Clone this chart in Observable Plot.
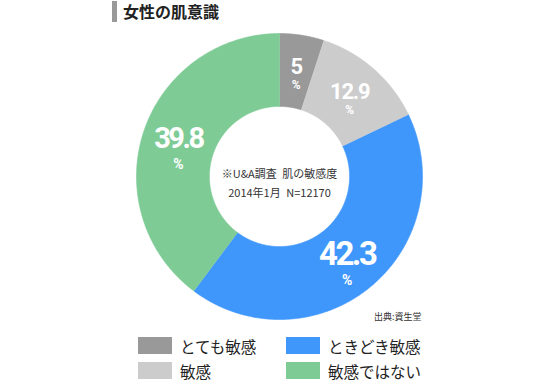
<!DOCTYPE html>
<html>
<head>
<meta charset="utf-8">
<script src="https://cdn.jsdelivr.net/npm/d3@7"></script>
<script src="https://cdn.jsdelivr.net/npm/@observablehq/plot@0.6"></script>
<style>
  html, body { margin: 0; padding: 0; background: #fff; }
  body { width: 560px; height: 386px; position: relative; overflow: hidden;
         font-family: "Noto Sans CJK JP", "Noto Sans", sans-serif; }
  #title { position: absolute; left: 112px; top: 1px; height: 21px; border-left: 5px solid #999;
           padding-left: 6px; font-size: 16px; font-weight: bold; color: #222; line-height: 21px; }
  #chart { position: absolute; left: 0; top: 28px; }
  #source { position: absolute; left: 374px; top: 310px; font-size: 9px; color: #333; }
  #legend { position: absolute; left: 138px; top: 337px; display: grid;
            grid-template-columns: 148px 160px; row-gap: 8px; }
  .item { display: flex; align-items: center; height: 17px; font-size: 15.5px; color: #222; }
  .sw { width: 34px; height: 17px; margin-right: 8px; flex: none; }
</style>
</head>
<body>
<div id="title"></div>
<div id="chart"></div>
<div id="source"></div>
<div id="legend"></div>
<script>
// ---- data ----
const categories = ["とても敏感", "敏感", "ときどき敏感", "敏感ではない"];
const values = [5, 12.9, 42.3, 39.8];
const centerLines = ["※U&A調査\u2002肌の敏感度", "2014年1月\u2002N=12170"];
const titleText = "女性の肌意識";
const sourceText = "出典:資生堂";
const legendOrder = ["とても敏感", "ときどき敏感", "敏感", "敏感ではない"];

// ---- styles ----
const colors = ["#999999", "#cccccc", "#3f97fc", "#7ecb96"];
const labelFontSizes = [22, 22, 33, 29];
const innerRatio = 0.49;

document.getElementById("title").textContent = titleText;
document.getElementById("source").textContent = sourceText;

const pie = d3.pie().sort(null).value(d => d.value)(
  categories.map((c, i) => ({cat: c, value: values[i], size: labelFontSizes[i]}))
);

// polygon outlines of each ring segment (angle 0 at top, clockwise)
const pts = [];
for (const a of pie) {
  const n = Math.max(8, Math.ceil((a.endAngle - a.startAngle) / 0.01));
  for (let k = 0; k <= n; k++) {
    const t = a.startAngle + (a.endAngle - a.startAngle) * k / n;
    pts.push({cat: a.data.cat, x: Math.sin(t), y: Math.cos(t)});
  }
  for (let k = n; k >= 0; k--) {
    const t = a.startAngle + (a.endAngle - a.startAngle) * k / n;
    pts.push({cat: a.data.cat, x: innerRatio * Math.sin(t), y: innerRatio * Math.cos(t)});
  }
}

const rMid = (1 + innerRatio) / 2;
const labels = pie.map(a => {
  const m = (a.startAngle + a.endAngle) / 2;
  return {cat: a.data.cat, value: a.data.value, size: a.data.size,
          x: rMid * Math.sin(m), y: rMid * Math.cos(m)};
});
const big = labels.filter(d => d.size > 25);
const small = labels.filter(d => d.size <= 25);

const numFont = "Roboto, 'DejaVu Sans', sans-serif";

const plot = Plot.plot({
  width: 560,
  height: 300,
  marginLeft: 136,
  marginRight: 138,
  marginTop: 5,
  marginBottom: 9,
  x: {domain: [-1, 1], axis: null},
  y: {domain: [-1, 1], axis: null},
  color: {domain: categories, range: colors},
  style: {background: "transparent"},
  marks: [
    Plot.line(pts, {x: "x", y: "y", z: "cat", fill: "cat", stroke: "cat", strokeWidth: 0.6, curve: "linear"}),
    Plot.text(small, {x: "x", y: "y", text: d => String(d.value), fontSize: "size", dy: -4,
      fill: "white", fontWeight: "bold", fontFamily: numFont}),
    Plot.text(small, {x: "x", y: "y", text: () => "%", fontSize: 12, dy: 14,
      fill: "white", fontWeight: "bold", fontFamily: numFont}),
    Plot.text(big, {x: "x", y: "y", text: d => String(d.value), fontSize: "size", dy: -4,
      fill: "white", fontWeight: "bold", fontFamily: numFont}),
    Plot.text(big, {x: "x", y: "y", text: () => "%", fontSize: 14, dy: 22,
      fill: "white", fontWeight: "bold", fontFamily: numFont}),
    Plot.text([centerLines.join("\n")], {frameAnchor: "middle", text: d => d, fontSize: 11,
      lineHeight: 1.75, fill: "#333", dy: 5,
      fontFamily: "'Noto Sans CJK JP', sans-serif"})
  ]
});
// tighten the numeric labels (condensed look)
d3.select(plot).selectAll("g[fill=white] text").each(function () {
  const t = this.textContent;
  if (t !== "%") {
    const fs = parseFloat(this.getAttribute("font-size") || 0);
    this.setAttribute("letter-spacing", fs > 25 ? "-2.5" : "-1.2");
  }
});
document.getElementById("chart").appendChild(plot);

const legend = document.getElementById("legend");
for (const c of legendOrder) {
  const i = categories.indexOf(c);
  const item = document.createElement("div");
  item.className = "item";
  const sw = document.createElement("span");
  sw.className = "sw";
  sw.style.background = colors[i];
  const lab = document.createElement("span");
  lab.textContent = c;
  item.appendChild(sw);
  item.appendChild(lab);
  legend.appendChild(item);
}
</script>
</body>
</html>
